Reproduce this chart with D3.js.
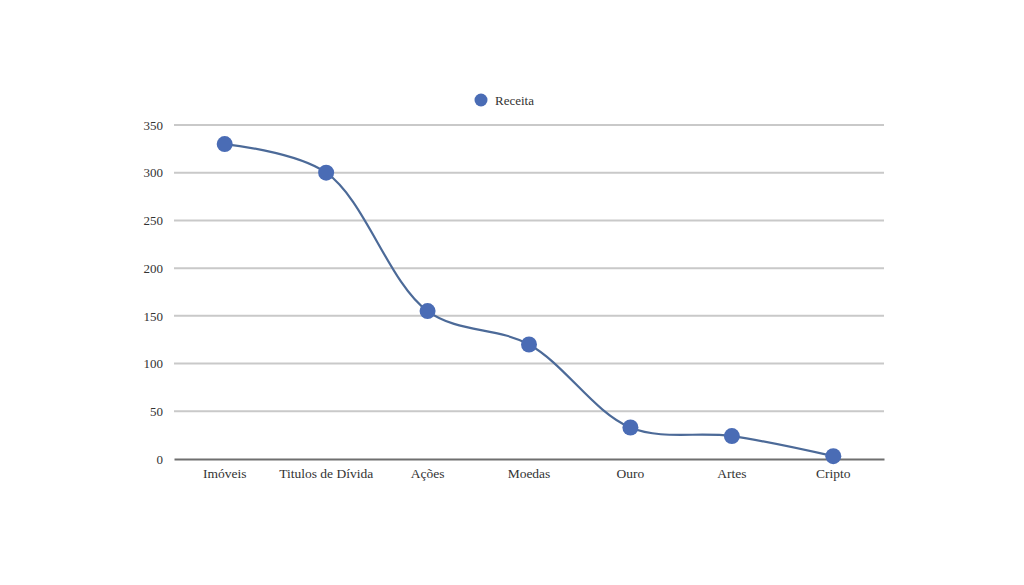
<!DOCTYPE html>
<html>
<head>
<meta charset="utf-8">
<script src="https://cdn.jsdelivr.net/npm/d3@7"></script>
<style>
  body { margin: 0; background: #fff; }
  text { font-family: "Liberation Serif", "DejaVu Serif", serif; fill: #333; }
</style>
</head>
<body>
<script>
// Data
const categories = ["Imóveis", "Titulos de Dívida", "Ações", "Moedas", "Ouro", "Artes", "Cripto"]
const receita = [330, 300, 155, 120, 33, 24, 3]
const yTicks = [0, 50, 100, 150, 200, 250, 300, 350]
const seriesName = "Receita"

const width = 1024
const height = 585
const margin = { top: 125, right: 140, bottom: 126, left: 174 }
const plotWidth = width - margin.left - margin.right
const plotHeight = height - margin.top - margin.bottom

const svg = d3.select("body")
  .append("svg")
  .attr("width", width)
  .attr("height", height)

const g = svg.append("g")
  .attr("transform", `translate(${margin.left}, ${margin.top})`)

const x = d3.scaleBand()
  .domain(categories)
  .range([0, plotWidth])

const y = d3.scaleLinear()
  .domain([0, 350])
  .range([plotHeight, 0])

// Gridlines
g.append("g")
  .selectAll("line")
  .data(yTicks.filter(d => d > 0))
  .join("line")
  .attr("x1", 0)
  .attr("x2", plotWidth)
  .attr("y1", d => y(d))
  .attr("y2", d => y(d))
  .style("stroke", "#c9c9c9")
  .style("stroke-width", 2)

// Y axis labels
const axisY = g.append("g")
  .call(d3.axisLeft(y).tickValues(yTicks).tickSize(0).tickPadding(11))
  .style("font-size", "13px")
axisY.call(a => a.select(".domain").remove())
axisY.selectAll("text").style("fill", "#333")

// X axis
const axisX = g.append("g")
  .attr("transform", `translate(0, ${plotHeight})`)
  .call(d3.axisBottom(x).tickSize(0).tickPadding(9))
  .style("font-size", "13.5px")
axisX.select(".domain").style("stroke", "#6f6f6f").style("stroke-width", 2)
axisX.selectAll("text").style("fill", "#333")

// Line
const line = d3.line()
  .x((d, i) => x(categories[i]) + x.bandwidth() / 2)
  .y(d => y(d))
  .curve(d3.curveCatmullRom.alpha(0.5))

g.append("path")
  .datum(receita)
  .attr("d", line)
  .style("fill", "none")
  .style("stroke", "#4c6a98")
  .style("stroke-width", 2.2)

// Markers
g.append("g")
  .selectAll("circle")
  .data(receita)
  .join("circle")
  .attr("cx", (d, i) => x(categories[i]) + x.bandwidth() / 2)
  .attr("cy", d => y(d))
  .attr("r", 8)
  .style("fill", "#4a6cb5")

// Legend
const legend = svg.append("g").attr("transform", "translate(481, 100)")
legend.append("circle").attr("r", 6.5).style("fill", "#4a6cb5")
legend.append("text")
  .attr("x", 14)
  .attr("dy", "0.35em")
  .style("font-size", "13px")
  .text(seriesName)
</script>
</body>
</html>
